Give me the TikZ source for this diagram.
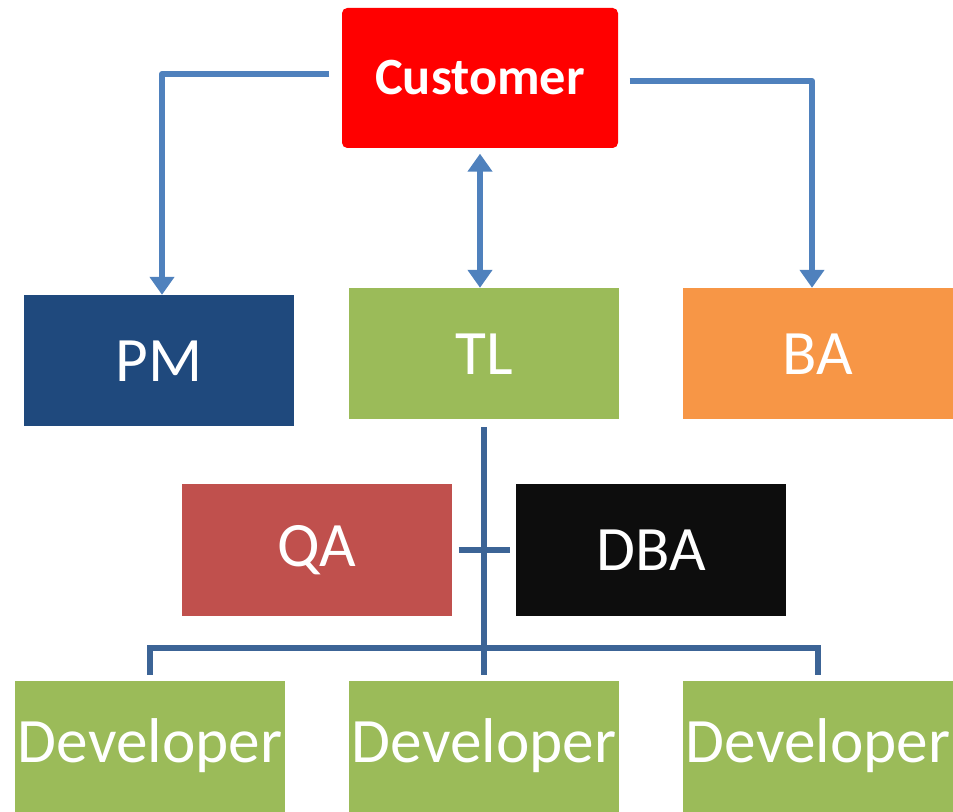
\documentclass[tikz,border=0pt]{standalone}
\usepackage{fontspec}
\setmainfont{Carlito}
\usetikzlibrary{calc, arrows.meta}
\definecolor{custred}{RGB}{255, 0, 0}
\definecolor{pmblue}{RGB}{31, 73, 125}
\definecolor{tlgreen}{RGB}{155, 187, 89}
\definecolor{baorange}{RGB}{247, 150, 70}
\definecolor{qared}{RGB}{192, 80, 77}
\definecolor{dbablack}{RGB}{13, 13, 13}
\definecolor{linkblue}{RGB}{79, 129, 189}
\definecolor{treeblue}{RGB}{60, 100, 150}
\tikzstyle{roleBox} = [shape=rectangle, text=white, inner sep=0pt, 
	align=center, minimum width=2.70cm, minimum height=1.31cm,
	font=\fontsize{18}{20}\selectfont]
\tikzstyle{CustBox} = [roleBox, fill=custred, rounded corners=1.5pt,
	minimum width=2.76cm, minimum height=1.40cm,
	font=\fontsize{14.9}{17}\selectfont\bfseries]
\tikzstyle{linkArrow} = [line width=1.7pt, draw=linkblue, line join=round,
	-{Triangle[width=0.24cm, length=0.18cm]}]
\tikzstyle{bothArrow} = [linkArrow, {Triangle[width=0.24cm, length=0.18cm]}-{Triangle[width=0.24cm, length=0.18cm]}]
\tikzstyle{treeLine} = [line width=1.7pt, draw=treeblue]

\begin{document}
\begin{tikzpicture}[node distance=3.34cm]
  \useasboundingbox (0,0) rectangle (9.53,8.11);
  \node (TL)   [roleBox, fill=tlgreen] at (4.84,4.57) {TL};
  \node (CUST) [CustBox, above of=TL, xshift=-0.04cm, yshift=-0.58cm] {Customer};
  \node (PM)   [roleBox, fill=pmblue, left of=TL, xshift=0.09cm, yshift=-0.07cm] {PM};
  \node (BA)   [roleBox, fill=baorange, right of=TL] {BA};
  \node (QA)   [roleBox, fill=qared, below of=TL, xshift=-1.67cm, yshift=1.38cm] {QA};
  \node (DBA)  [roleBox, fill=dbablack, right of=QA] {DBA};
  \node (DEV2) [roleBox, fill=tlgreen, below of=TL, yshift=-0.58cm] {Developer};
  \node (DEV1) [roleBox, fill=tlgreen, left of=DEV2] {Developer};
  \node (DEV3) [roleBox, fill=tlgreen, right of=DEV2] {Developer};

  \coordinate (CL) at ($(CUST.west)+(-0.12,0.04)$);
  \coordinate (CR) at ($(CUST.east)+(0.11,-0.03)$);

  \draw [linkArrow] (CL) -| ([xshift=0.03cm]PM.north);
  \draw [linkArrow] (CR) -| ([xshift=-0.06cm]BA.north);
  \draw [bothArrow] ([yshift=-0.05cm]CUST.south) -- (CUST.south |- TL.north);

  \draw [treeLine] ([yshift=-0.07cm]TL.south) -- ([yshift=0.05cm]DEV2.north);
  \draw [treeLine] ([xshift=0.06cm]QA.east) -- ([xshift=-0.05cm]DBA.west);
  \draw [treeLine] ([yshift=0.05cm]DEV1.north) -- ++(0,0.27) -| ([yshift=0.05cm]DEV3.north);

\end{tikzpicture}
\end{document}
